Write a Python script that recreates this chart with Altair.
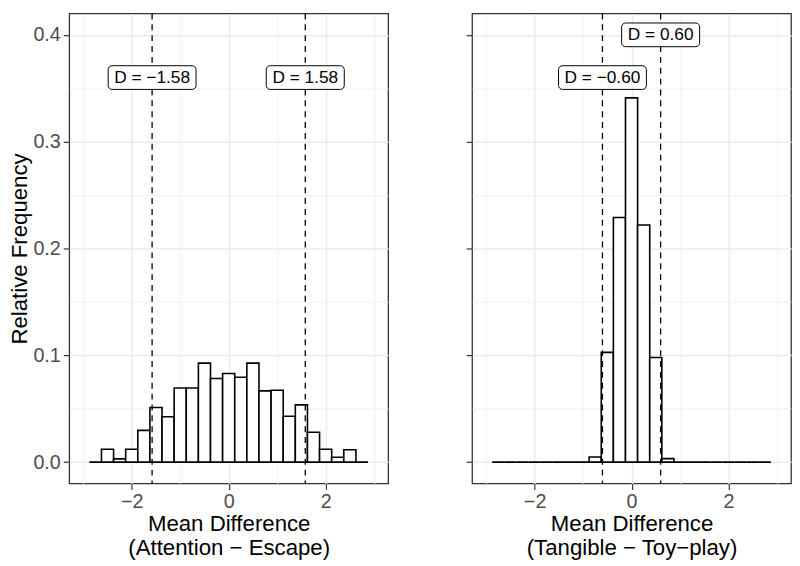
import altair as alt
import pandas as pd

# ---- data ----
bin_centers = [-2.75, -2.5, -2.25, -2.0, -1.75, -1.5, -1.25, -1.0, -0.75, -0.5, -0.25,
               0.0, 0.25, 0.5, 0.75, 1.0, 1.25, 1.5, 1.75, 2.0, 2.25, 2.5, 2.75]
bin_width = 0.25

left_freq = [0.0, 0.0121, 0.0030, 0.0120, 0.0297, 0.0512, 0.0424, 0.0694, 0.0694, 0.0927, 0.0782,
             0.0830, 0.0794, 0.0927, 0.0667, 0.0673, 0.0430, 0.0536, 0.0279, 0.0120, 0.0045, 0.0115, 0.0]
right_freq = [0.0, 0.0, 0.0, 0.0, 0.0, 0.0, 0.0, 0.0, 0.0048, 0.1027, 0.2290,
              0.3410, 0.2220, 0.0980, 0.0033, 0.0, 0.0, 0.0, 0.0, 0.0, 0.0, 0.0, 0.0]

left_d = [-1.58, 1.58]
left_labels = ["D = \u22121.58", "D = 1.58"]
left_label_y = [0.36, 0.36]

right_d = [-0.60, 0.60]
right_labels = ["D = \u22120.60", "D = 0.60"]
right_label_y = [0.36, 0.40]

left_title = ["Mean Difference", "(Attention \u2212 Escape)"]
right_title = ["Mean Difference", "(Tangible \u2212 Toy\u2212play)"]
y_title = "Relative Frequency"

x_ticks = [-3, -2, -1, 0, 1, 2, 3]
y_ticks = [0.0, 0.05, 0.1, 0.15, 0.2, 0.25, 0.3, 0.35, 0.4]

X_DOMAIN = [-3.29, 3.29]
Y_DOMAIN = [-0.02, 0.42]
FONT = "Liberation Sans"

major_y = "abs(datum.value*10 - round(datum.value*10)) < 0.001"
major_x = "datum.value % 2 === 0"


def panel(freq, dvals, labels, label_y, xtitle, show_y):
    bars = pd.DataFrame({
        "lo": [c - bin_width / 2 for c in bin_centers],
        "hi": [c + bin_width / 2 for c in bin_centers],
        "freq": freq,
    })
    lines = pd.DataFrame({"d": dvals})
    labs = pd.DataFrame({"d": dvals, "label": labels, "ly": label_y})

    xscale = alt.Scale(domain=X_DOMAIN, nice=False, zero=False)
    yscale = alt.Scale(domain=Y_DOMAIN, nice=False, zero=False)

    xaxis = alt.Axis(
        values=x_ticks,
        labelExpr=f"{major_x} ? format(datum.value, 'd') : ''",
        tickOpacity={"condition": {"test": major_x, "value": 1}, "value": 0},
        gridWidth={"condition": {"test": major_x, "value": 1.5}, "value": 0.8},
        title=xtitle,
        labelPadding=2,
        titlePadding=2,
    )
    if show_y:
        yaxis = alt.Axis(
            values=y_ticks,
            labelExpr=f"{major_y} ? format(datum.value, '.1f') : ''",
            tickOpacity={"condition": {"test": major_y, "value": 1}, "value": 0},
            gridWidth={"condition": {"test": major_y, "value": 1.5}, "value": 0.8},
            title=y_title,
            labelPadding=3,
            titlePadding=1,
        )
    else:
        yaxis = alt.Axis(
            values=y_ticks,
            labels=False,
            tickOpacity={"condition": {"test": major_y, "value": 1}, "value": 0},
            gridWidth={"condition": {"test": major_y, "value": 1.5}, "value": 0.8},
            title=None,
        )

    X = lambda f: alt.X(f, scale=xscale, axis=xaxis)
    Y = lambda f: alt.Y(f, scale=yscale, axis=yaxis)

    hist = alt.Chart(bars).mark_rect(fill="white", stroke="black", strokeWidth=1.6).encode(
        x=X("lo:Q"),
        x2="hi:Q",
        y=Y("freq:Q"),
        y2=alt.datum(0),
    )
    rules = alt.Chart(lines).mark_rule(color="black", strokeWidth=1.3, strokeDash=[6, 5]).encode(
        x=X("d:Q"),
    )
    box_neg = alt.Chart(labs).transform_filter("datum.d < 0").mark_rect(
        width=89, height=24, cornerRadius=4, fill="white", stroke="black", strokeWidth=1
    ).encode(x=X("d:Q"), y=Y("ly:Q"))
    box_pos = alt.Chart(labs).transform_filter("datum.d >= 0").mark_rect(
        width=79, height=24, cornerRadius=4, fill="white", stroke="black", strokeWidth=1
    ).encode(x=X("d:Q"), y=Y("ly:Q"))
    text = alt.Chart(labs).mark_text(font=FONT, fontSize=17.5, color="black",
                                     align="center", baseline="middle").encode(
        x=X("d:Q"), y=Y("ly:Q"), text="label:N",
    )
    return alt.layer(hist, rules, box_neg, box_pos, text).properties(width=323, height=476)


left = panel(left_freq, left_d, left_labels, left_label_y, left_title, True)
right = panel(right_freq, right_d, right_labels, right_label_y, right_title, False)

chart = alt.hconcat(left, right, spacing=76).properties(
    padding={"left": 0, "top": 0, "right": 0, "bottom": 0},
    background="white",
).configure_view(
    stroke="#333333", strokeWidth=1.3, fill="white"
).configure_axis(
    domain=False,
    grid=True,
    gridColor="#EBEBEB",
    tickColor="#333333",
    tickSize=6,
    tickWidth=1.2,
    labelFont=FONT,
    labelFontSize=20,
    labelColor="#4D4D4D",
    titleFont=FONT,
    titleFontSize=22.5,
    titleFontWeight="normal",
    titleColor="black",
    titleLineHeight=24,
)

chart.save("out.html", embed_options={"renderer": "svg", "actions": False})
